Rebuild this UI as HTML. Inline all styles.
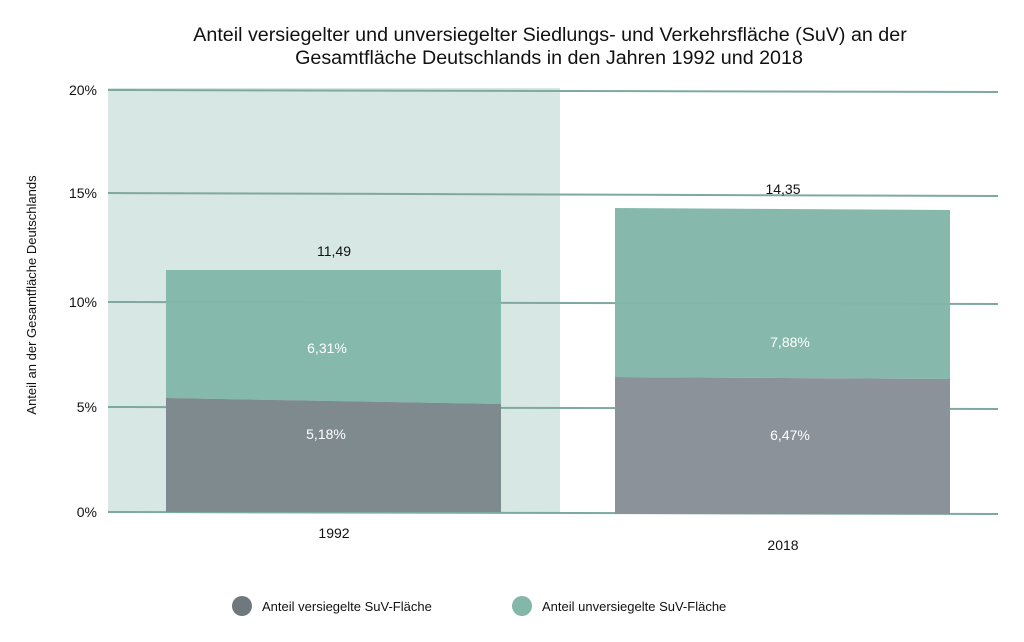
<!DOCTYPE html>
<html><head><meta charset="utf-8"><style>
body{margin:0;background:#fff;width:1024px;height:637px;overflow:hidden;font-family:"Liberation Sans",sans-serif}
</style></head><body>
<svg width="1024" height="637" xmlns="http://www.w3.org/2000/svg" font-family="Liberation Sans, sans-serif">
<text x="550" y="41" text-anchor="middle" font-size="19.7" fill="#111">Anteil versiegelter und unversiegelter Siedlungs- und Verkehrsfläche (SuV) an der</text>
<text x="549" y="64" text-anchor="middle" font-size="19.7" fill="#111">Gesamtfläche Deutschlands in den Jahren 1992 und 2018</text>
<rect x="108" y="88" width="452" height="424" fill="#d7e7e3"/>
<g stroke="#7fa9a0" stroke-width="2" fill="none">
<line x1="108" y1="90" x2="998" y2="92"/>
<line x1="108" y1="193" x2="998" y2="196"/>
<line x1="108" y1="302" x2="998" y2="304"/>
<line x1="108" y1="407" x2="998" y2="409"/>
<line x1="108" y1="512" x2="998" y2="514"/>
</g>
<polygon points="166,270 501,270 501,404 166,398" fill="#82b7a9" opacity="0.97"/>
<polygon points="166,398 501,404 501,512 166,512" fill="#7f8a8e"/>
<polygon points="615,208 950,210 950,379 615,377" fill="#82b7a9" opacity="0.97"/>
<polygon points="615,377 950,379 950,514 615,514" fill="#8c9299"/>
<g font-size="14" fill="#111">
<text x="97" y="95" text-anchor="end">20%</text>
<text x="97" y="198" text-anchor="end">15%</text>
<text x="97" y="307" text-anchor="end">10%</text>
<text x="97" y="412" text-anchor="end">5%</text>
<text x="97" y="517" text-anchor="end">0%</text>
<text x="334" y="256" text-anchor="middle">11,49</text>
<text x="783" y="194" text-anchor="middle">14,35</text>
<text x="334" y="538" text-anchor="middle">1992</text>
<text x="783" y="550" text-anchor="middle">2018</text>
</g>
<g font-size="14" fill="#fff">
<text x="327" y="353" text-anchor="middle">6,31%</text>
<text x="326" y="439" text-anchor="middle">5,18%</text>
<text x="790" y="347" text-anchor="middle">7,88%</text>
<text x="790" y="440" text-anchor="middle">6,47%</text>
</g>
<text transform="translate(36,295) rotate(-90)" text-anchor="middle" font-size="13" fill="#111">Anteil an der Gesamtfläche Deutschlands</text>
<circle cx="242" cy="606" r="10" fill="#6f787d"/>
<text x="262" y="611" font-size="13" fill="#111">Anteil versiegelte SuV-Fläche</text>
<circle cx="522" cy="606" r="10" fill="#82b7a9"/>
<text x="542" y="611" font-size="13" fill="#111">Anteil unversiegelte SuV-Fläche</text>
</svg>
</body></html>
